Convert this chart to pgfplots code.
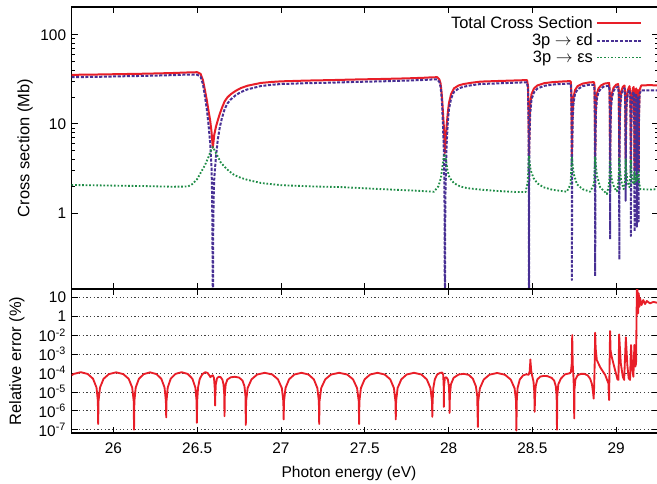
\documentclass[border=0pt]{standalone}
\usepackage{fontspec}
\setmainfont{Liberation Sans}
\usepackage{pgfplots}
\pgfplotsset{compat=1.18}

\definecolor{cred}{RGB}{232,30,40}
\definecolor{cblue}{RGB}{72,48,148}
\definecolor{cgreen}{RGB}{30,140,70}

\begin{document}
\begin{tikzpicture}
\pgfplotsset{
  every axis/.append style={
    scale only axis, width=381.2pt,
    xmin=25.75, xmax=29.25,
    xtick={26,26.5,27,27.5,28,28.5,29},
    /pgf/number format/assume math mode=true,
    tick label style={font=\fontsize{10}{12}\selectfont},
    label style={font=\fontsize{10.7}{12}\selectfont},
    axis line style={line width=0.7pt},
    major tick length=4pt, minor tick length=2pt,
    every tick/.style={black, line width=0.5pt},
  },
}
% upper panel: cross sections
\begin{axis}[
  name=top, at={(46.5pt,-4.55pt)}, anchor=north west,
  height=183.3pt,
  ymode=log, ymin=0.14, ymax=205,
  ytick={1,10,100}, yticklabels={1,10,100},
  xticklabels={},
  ylabel={Cross section (Mb)},
  ylabel style={at={(axis description cs:-0.0793,0.5)}, anchor=center},
  legend style={draw=none, fill=none, at={(axis description cs:0.981,0.99)}, anchor=north east,
    font=\fontsize{10.7}{12}\selectfont, row sep=-2.1pt},
  legend cell align=right, legend plot pos=right,
  legend image code/.code={\draw[#1] (0pt,0pt) -- (28.6pt,0pt);},
]
\addplot[cred, line width=1.3pt, line join=round] table {
25.75 35.5
25.9 35.8
26.05 36.2
26.2 36.6
26.35 37.2
26.45 37.8
26.5 38.0
26.52 36.5
26.534 31
26.545 24.5
26.557 18.6
26.567 14.2
26.577 11
26.585 8.3
26.59 6.4
26.593 5.4
26.596 6.0
26.602 7.6
26.612 9.3
26.623 11
26.635 13
26.647 15
26.663 17.8
26.68 19.8
26.7 21.5
26.73 23.5
26.76 25.2
26.8 26.8
26.88 28.8
26.95 29.6
27.0 30.0
27.15 30.6
27.3 31.0
27.45 31.5
27.6 31.9
27.75 32.4
27.85 32.9
27.9 33.3
27.933 33.4
27.945 31.5
27.952 28.6
27.958 23
27.962 18.6
27.967 13
27.972 9.3
27.975 6.5
27.978 4.7
27.982 6.2
27.988 9.3
27.995 13
28.002 17
28.015 21.5
28.032 25
28.06 27
28.09 28
28.14 29
28.19 29.8
28.3 30.3
28.42 30.8
28.468 31
28.474 27
28.477 15
28.48 4.4
28.483 10
28.487 16
28.495 21.5
28.51 25
28.53 27
28.57 28.6
28.62 29.4
28.68 29.9
28.725 30.2
28.73 29.5
28.733 22
28.735 10
28.736 4.3
28.738 9
28.741 15
28.746 20
28.755 24
28.77 26.5
28.8 28.3
28.84 29.2
28.868 29.4
28.871 27
28.873 15
28.875 4.3
28.877 10
28.88 17
28.886 22
28.895 25
28.91 27
28.93 28.3
28.958 28.8
28.961 25
28.963 12
28.964 3.9
28.966 10
28.969 17
28.975 22
28.985 25.5
29.0 27.5
29.012 28
29.016 24
29.018 10
29.019 4.1
29.021 10
29.024 17
29.03 23
29.04 26
29.05 27
29.054 22
29.056 9
29.057 4.1
29.059 10
29.062 18
29.07 24
29.08 26.5
29.085 22
29.087 9
29.088 3.9
29.09 10
29.093 18
29.1 25
29.105 26
29.108 15
29.11 3
29.112 12
29.116 22
29.12 25
29.122 15
29.124 2.6
29.126 12
29.13 24
29.132 12
29.134 3
29.136 12
29.14 24
29.15 27
29.2 27.2
29.25 27
};
\addlegendentry{Total Cross Section}
\addplot[cblue, line width=1.3pt, line join=round, dash pattern=on 2pt off 1pt] table {
25.75 33.4
25.9 33.7
26.05 34.2
26.2 34.6
26.35 35.2
26.45 35.8
26.5 35.6
26.52 33.9
26.534 28
26.545 21
26.557 14.8
26.567 10.0
26.577 6.2
26.585 3.4
26.588 2.0
26.591 0.6
26.593 0.01
26.595 0.5
26.598 1.5
26.602 2.5
26.612 4.3
26.623 6.7
26.635 9.2
26.647 11.5
26.663 14.5
26.68 16.9
26.7 18.8
26.73 21
26.76 22.7
26.8 24.4
26.88 26.6
26.95 27.5
27.0 28.0
27.15 28.6
27.3 29.0
27.45 29.6
27.6 30.0
27.75 30.6
27.85 31.1
27.9 31.5
27.933 31.5
27.945 29.5
27.952 26.3
27.958 20.5
27.962 15.6
27.967 9.3
27.972 5.0
27.975 2.2
27.977 0.6
27.978 0.01
27.98 0.8
27.982 1.9
27.988 5.6
27.995 10
28.002 14.5
28.015 19.2
28.032 22.8
28.06 25
28.09 26.1
28.14 27.2
28.19 28
28.3 28.5
28.42 29.1
28.468 29.2
28.474 24.5
28.477 11.5
28.479 2
28.48 0.01
28.481 1.5
28.483 6.5
28.487 12.8
28.495 18.8
28.51 22.6
28.53 24.9
28.57 26.7
28.62 27.6
28.68 28.1
28.725 28.3
28.73 27.5
28.733 18.8
28.735 6
28.736 0.177
28.738 5
28.741 11.5
28.746 17.3
28.755 21.8
28.77 24.4
28.8 26.5
28.84 27.5
28.868 27.3
28.871 23.8
28.873 11
28.875 0.196
28.877 6.6
28.88 14
28.886 19.4
28.895 22.8
28.91 25
28.93 26.5
28.958 26.7
28.961 22
28.963 9
28.964 0.506
28.966 6.9
28.969 14.3
28.975 19.7
28.985 23.5
29.0 25.6
29.012 26
29.016 21
29.018 6.5
29.019 0.30
29.021 6.9
29.024 14.5
29.03 20.7
29.04 24
29.05 25.1
29.054 19.5
29.056 5.5
29.057 1.37
29.059 6.9
29.062 15.5
29.07 21.8
29.08 24
29.085 19.4
29.087 5.5
29.088 0.55
29.09 7.1
29.093 15.8
29.1 21.9
29.105 22.8
29.108 12.5
29.11 0.62
29.112 9.7
29.116 19.8
29.12 21.8
29.122 12.6
29.124 0.7
29.126 9.7
29.13 19.7
29.132 9
29.134 0.8
29.136 9.8
29.14 22
29.15 23.7
29.2 23.8
29.25 23.7
};
\addlegendentry{3p $\rightarrow$ εd}
\addplot[cgreen, line width=1.2pt, line join=round, dash pattern=on 1.1pt off 1.2pt] table {
25.75 2.06
25.9 2.04
26.05 2.02
26.2 2.0
26.35 1.97
26.444 1.98
26.47 2.1
26.5 2.4
26.524 2.9
26.545 3.4
26.564 4.1
26.58 4.9
26.593 5.5
26.605 5.0
26.623 4.3
26.64 3.7
26.663 3.3
26.69 2.95
26.72 2.67
26.76 2.48
26.8 2.35
26.88 2.17
27.0 2.05
27.2 1.98
27.36 1.95
27.6 1.85
27.8 1.78
27.913 1.73
27.94 2.0
27.955 2.5
27.965 3.5
27.972 4.3
27.978 4.6
27.985 3.9
27.992 3.1
28.005 2.5
28.032 2.16
28.07 1.98
28.11 1.9
28.2 1.82
28.3 1.76
28.4 1.72
28.46 1.72
28.472 2.2
28.477 3.4
28.48 4.4
28.484 3.6
28.49 3.0
28.508 2.45
28.53 2.15
28.567 1.94
28.62 1.82
28.706 1.73
28.728 2.1
28.733 3.2
28.736 4.3
28.74 3.5
28.748 2.7
28.766 2.1
28.8 1.85
28.845 1.73
28.868 2.1
28.872 3.2
28.875 4.3
28.879 3.4
28.886 2.6
28.905 1.94
28.945 1.63
28.958 2.1
28.962 3.0
28.964 3.94
28.967 3.1
28.975 2.3
28.99 1.9
29.005 1.75
29.013 2.2
29.017 3.1
29.019 4.1
29.022 3.1
29.03 2.3
29.045 1.85
29.052 2.1
29.055 3.0
29.057 4.1
29.06 3.1
29.068 2.2
29.08 1.95
29.085 2.6
29.088 3.94
29.091 2.9
29.1 2.1
29.107 2.2
29.11 2.9
29.113 2.3
29.12 2.2
29.124 2.6
29.127 2.3
29.133 2.9
29.137 2.2
29.145 1.85
29.2 1.83
29.25 1.85
};
\addlegendentry{3p $\rightarrow$ εs}
\end{axis}
% lower panel: relative error
\begin{axis}[
  at={(top.south west)}, anchor=north west,
  height=93.6pt,
  ymode=log, ymin=6.7e-8, ymax=2.75,
  ytick={1,0.1,1e-2,1e-3,1e-4,1e-5,1e-6,1e-7},
  yticklabels={10,1,10\textsuperscript{-2},10\textsuperscript{-3},10\textsuperscript{-4},10\textsuperscript{-5},10\textsuperscript{-6},10\textsuperscript{-7}},
  yminorticks=false,
  ymajorgrids, grid style={black!75, line width=0.5pt, dash pattern=on 0.8pt off 1.6pt},
  xticklabel style={yshift=-3pt},
  xlabel={Photon energy (eV)},
  xlabel style={at={(axis description cs:0.473,0)}, anchor=center, yshift=-26pt, font=\fontsize{10.1}{12}\selectfont},
  ylabel={Relative error (\%)},
  ylabel style={at={(axis description cs:-0.0934,0.5)}, anchor=center},
]
\addplot[cred, line width=1.2pt, line join=round] table {
25.75 7.5e-5
25.763 8.9e-5
25.805 1.1e-4
25.846 8.9e-5
25.878 5.0e-5
25.899 1.7e-5
25.907 3.4e-6
25.909 2e-7
25.911 3.3e-6
25.920 1.7e-5
25.941 4.9e-5
25.973 8.7e-5
26.016 1.08e-4
26.059 8.7e-5
26.091 4.9e-5
26.112 1.7e-5
26.121 3.3e-6
26.123 1e-7
26.125 3.3e-6
26.133 1.7e-5
26.152 4.9e-5
26.181 8.7e-5
26.219 1.08e-4
26.257 8.7e-5
26.286 4.9e-5
26.305 1.7e-5
26.313 3.3e-6
26.315 4.5e-7
26.317 3.4e-6
26.324 1.7e-5
26.342 5.0e-5
26.370 8.9e-5
26.407 1.1e-4
26.443 8.9e-5
26.471 5.0e-5
26.489 1.7e-5
26.496 3.4e-6
26.498 2.3e-7
26.500 3.4e-6
26.505 1.7e-5
26.515 4.8e-5
26.53 8.5e-5
26.548 1.1e-4
26.562 1.0e-4
26.572 7.5e-5
26.579 6.0e-5
26.586 7.0e-5
26.593 7.5e-5
26.6 5.5e-5
26.604 2.0e-5
26.606 5e-6
26.607 1.9e-6
26.608 6e-6
26.611 2.5e-5
26.618 5.2e-5
26.628 6.3e-5
26.64 6.0e-5
26.65 4.5e-5
26.657 2.5e-5
26.661 8e-6
26.663 5.2e-7
26.665 8e-6
26.67 2.5e-5
26.68 4.5e-5
26.70 5.9e-5
26.725 6.3e-5
26.75 5.7e-5
26.77 4.0e-5
26.782 2.0e-5
26.788 6e-6
26.79 1.8e-7
26.792 3.2e-6
26.801 1.6e-5
26.824 4.6e-5
26.858 8.3e-5
26.903 1.02e-4
26.948 8.3e-5
26.982 4.6e-5
27.005 1.6e-5
27.014 3.2e-6
27.016 3.5e-7
27.018 3.2e-6
27.027 1.6e-5
27.048 4.6e-5
27.080 8.3e-5
27.122 1.02e-4
27.164 8.3e-5
27.196 4.6e-5
27.217 1.6e-5
27.226 3.2e-6
27.228 2e-7
27.230 3.2e-6
27.240 1.6e-5
27.264 4.6e-5
27.299 8.3e-5
27.347 1.02e-4
27.395 8.3e-5
27.430 4.6e-5
27.454 1.6e-5
27.464 3.2e-6
27.466 2e-7
27.468 3.2e-6
27.477 1.6e-5
27.499 4.6e-5
27.532 8.3e-5
27.576 1.02e-4
27.619 8.3e-5
27.652 4.6e-5
27.674 1.6e-5
27.683 3.2e-6
27.685 3.5e-7
27.687 3.2e-6
27.696 1.6e-5
27.718 4.6e-5
27.750 8.3e-5
27.794 1.02e-4
27.838 8.3e-5
27.870 4.6e-5
27.892 1.6e-5
27.901 3.2e-6
27.903 4.8e-7
27.905 3.3e-6
27.909 1.6e-5
27.918 4.6e-5
27.932 8.3e-5
27.950 1.02e-4
27.962 1.05e-4
27.968 8e-5
27.971 2e-5
27.972 1.6e-6
27.973 2e-5
27.978 5.5e-5
27.986 6.0e-5
27.996 4.5e-5
28.002 2.0e-5
28.005 5e-6
28.006 7.7e-7
28.008 6e-6
28.014 2.5e-5
28.03 5.5e-5
28.06 8.3e-5
28.09 9.0e-5
28.12 8.0e-5
28.145 5.0e-5
28.163 2.0e-5
28.171 6e-6
28.175 1.4e-7
28.177 3.1e-6
28.187 1.56e-5
28.210 4.5e-5
28.244 8.1e-5
28.290 1.0e-4
28.336 8.1e-5
28.371 4.5e-5
28.394 1.56e-5
28.403 3.1e-6
28.405 9e-8
28.407 3.2e-6
28.412 1.6e-5
28.425 4.5e-5
28.445 7.5e-5
28.465 8.5e-5
28.478 8.0e-5
28.484 1.2e-4
28.487 3e-4
28.488 5.2e-4
28.490 3.0e-4
28.494 1.2e-4
28.500 6.5e-5
28.507 3.5e-5
28.511 1.2e-5
28.513 3e-6
28.514 8.8e-7
28.516 5e-6
28.520 2e-5
28.530 4.6e-5
28.548 6.5e-5
28.57 7.0e-5
28.59 6.8e-5
28.615 5.5e-5
28.63 4.0e-5
28.640 2.0e-5
28.645 6e-6
28.647 1e-7
28.649 6e-6
28.655 2.5e-5
28.67 5.0e-5
28.695 8.5e-5
28.72 9.5e-5
28.73 1.1e-4
28.735 3e-4
28.738 1e-2
28.741 3e-4
28.745 7e-5
28.748 1.5e-5
28.750 3.9e-7
28.752 1.5e-5
28.757 4.5e-5
28.77 7.5e-5
28.79 9.0e-5
28.81 9.0e-5
28.83 7.5e-5
28.845 5.0e-5
28.856 2.5e-5
28.862 1e-5
28.866 4.4e-6
28.869 2e-5
28.872 3e-4
28.875 1.35e-2
28.878 2e-3
28.885 4.8e-4
28.905 2e-4
28.935 7.8e-5
28.954 2.8e-5
28.958 3.7e-6
28.961 3e-4
28.964 1.64e-2
28.967 1.5e-3
28.974 7e-4
28.994 1.4e-4
29.008 4.6e-5
29.014 4.3e-5
29.018 1.1e-2
29.028 3.2e-4
29.040 6.3e-5
29.048 4.3e-5
29.058 7.7e-3
29.067 2.6e-4
29.075 5.2e-5
29.083 4.3e-5
29.089 3e-3
29.097 1.4e-4
29.103 6.3e-5
29.109 3e-3
29.115 2.2e-4
29.119 3.2e-4
29.124 4
29.127 3.7
29.131 0.142
29.135 1.63
29.139 0.32
29.143 0.885
29.152 0.39
29.162 0.72
29.173 0.44
29.183 0.64
29.202 0.48
29.222 0.57
29.244 0.52
29.25 0.53
};
\end{axis}
\pgfresetboundingbox
\useasboundingbox (0pt,0pt) rectangle (427.05pt,-313.95pt);
\end{tikzpicture}
\end{document}
